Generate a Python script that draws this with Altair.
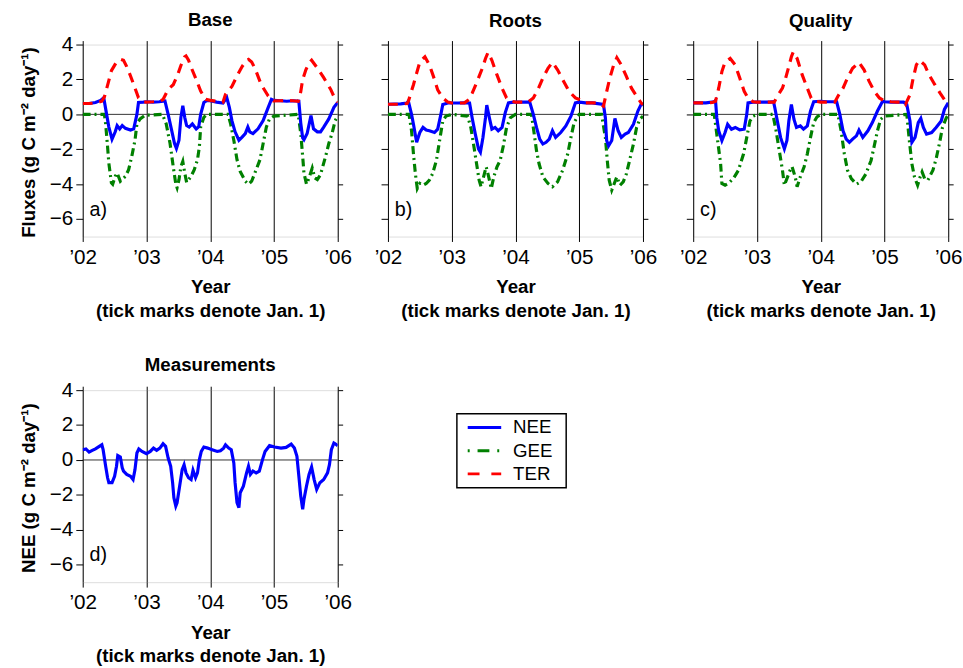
import altair as alt
import pandas as pd

FONT = "Liberation Sans"
BLUE, GREEN, RED = "#0000ff", "#008000", "#ff0000"

YEAR_TICKS = [2002, 2003, 2004, 2005, 2006]
FLUX_TICKS = [-6, -4, -2, 0, 2, 4]
PANEL_TITLES = ["Base", "Roots", "Quality", "Measurements"]
PANEL_LABELS = ["a)", "b)", "c)", "d)"]
LEGEND_NAMES = ["NEE", "GEE", "TER"]

# (decimal year, flux) pairs
BASE_TER = [(2002.0, 0.62), (2002.1, 0.62), (2002.2, 0.65), (2002.3, 0.75), (2002.34, 1.0), (2002.4, 1.8),
            (2002.45, 2.5), (2002.49, 2.75), (2002.53, 3.0), (2002.57, 3.1), (2002.6, 3.15), (2002.64, 3.1),
            (2002.69, 2.74), (2002.75, 2.2), (2002.8, 1.7), (2002.875, 0.95), (2002.95, 0.72), (2003.0, 0.7),
            (2003.1, 0.72), (2003.2, 0.75), (2003.26, 0.85), (2003.34, 1.43), (2003.42, 1.7), (2003.49, 2.27),
            (2003.54, 2.8), (2003.6, 3.3), (2003.62, 3.35), (2003.66, 3.1), (2003.7, 2.7), (2003.78, 2.0),
            (2003.85, 1.33), (2003.93, 0.86), (2004.0, 0.8), (2004.1, 0.75), (2004.2, 0.7), (2004.24, 1.15),
            (2004.34, 1.6), (2004.42, 2.2), (2004.5, 2.74), (2004.57, 3.1), (2004.6, 3.15), (2004.65, 3.0),
            (2004.7, 2.65), (2004.8, 1.7), (2004.91, 1.05), (2004.99, 0.77), (2005.1, 0.78), (2005.2, 0.8),
            (2005.3, 0.78), (2005.38, 0.75), (2005.42, 1.3), (2005.45, 2.0), (2005.5, 2.55), (2005.55, 2.95),
            (2005.59, 3.1), (2005.68, 2.65), (2005.78, 2.1), (2005.89, 1.43), (2005.96, 0.86), (2006.0, 0.7)]
BASE_NEE = [(2002.0, 0.62), (2002.1, 0.62), (2002.2, 0.68), (2002.28, 0.8), (2002.33, 0.95), (2002.375, 0.0),
            (2002.41, -0.73), (2002.46, -1.42), (2002.51, -1.0), (2002.54, -0.64), (2002.58, -0.83),
            (2002.62, -0.64), (2002.67, -0.8), (2002.75, -0.9), (2002.8, -0.83), (2002.85, 0.0), (2002.875, 0.68),
            (2002.95, 0.7), (2003.0, 0.72), (2003.1, 0.7), (2003.2, 0.72), (2003.29, 0.77), (2003.34, 0.0),
            (2003.39, -0.83), (2003.44, -1.67), (2003.47, -1.95), (2003.51, -1.48), (2003.54, -0.17),
            (2003.57, 0.49), (2003.6, -0.17), (2003.63, -0.64), (2003.67, -0.73), (2003.72, -0.55),
            (2003.78, -0.83), (2003.82, -0.7), (2003.85, 0.0), (2003.9, 0.68), (2003.95, 0.8), (2004.0, 0.78),
            (2004.1, 0.7), (2004.2, 0.65), (2004.26, 0.96), (2004.3, 0.4), (2004.34, -0.36), (2004.39, -1.0),
            (2004.45, -1.48), (2004.5, -1.3), (2004.55, -1.1), (2004.59, -0.73), (2004.62, -1.0),
            (2004.67, -1.1), (2004.75, -0.83), (2004.83, -0.36), (2004.91, 0.4), (2004.96, 0.86), (2005.0, 0.8),
            (2005.1, 0.78), (2005.2, 0.75), (2005.3, 0.78), (2005.39, 0.75), (2005.42, -0.5), (2005.45, -1.35),
            (2005.47, -1.45), (2005.52, -1.1), (2005.58, -0.07), (2005.62, -0.83), (2005.68, -1.0),
            (2005.73, -1.0), (2005.78, -0.73), (2005.86, -0.26), (2005.94, 0.4), (2006.0, 0.68)]
BASE_GEE = [(2002.0, 0.0), (2002.34, 0.0), (2002.36, -0.55), (2002.39, -1.86), (2002.41, -2.8), (2002.45, -3.92),
            (2002.47, -4.0), (2002.51, -3.55), (2002.54, -3.36), (2002.59, -3.83), (2002.67, -3.55),
            (2002.72, -3.17), (2002.77, -2.4), (2002.82, -1.48), (2002.85, -0.55), (2002.9, -0.26),
            (2002.98, -0.05), (2003.25, 0.0), (2003.31, -0.55), (2003.37, -1.67), (2003.42, -3.0), (2003.46, -4.0),
            (2003.48, -4.2), (2003.51, -3.74), (2003.54, -3.0), (2003.57, -2.7), (2003.6, -3.36), (2003.63, -3.9),
            (2003.7, -3.55), (2003.75, -3.17), (2003.8, -2.6), (2003.83, -1.86), (2003.85, -0.73),
            (2003.9, -0.17), (2003.95, 0.0), (2004.28, 0.0), (2004.32, -0.55), (2004.37, -1.48), (2004.42, -2.6),
            (2004.47, -3.27), (2004.55, -3.83), (2004.6, -4.0), (2004.65, -3.83), (2004.7, -3.36),
            (2004.78, -2.6), (2004.83, -1.67), (2004.88, -0.73), (2004.93, -0.26), (2005.0, -0.1), (2005.38, 0.0),
            (2005.42, -1.1), (2005.45, -2.4), (2005.47, -3.36), (2005.51, -4.0), (2005.55, -3.64), (2005.6, -3.08),
            (2005.64, -3.64), (2005.68, -3.74), (2005.73, -3.45), (2005.81, -2.4), (2005.86, -1.67),
            (2005.91, -1.1), (2005.96, -0.36), (2006.0, -0.1)]

ROOTS_TER = [(2002.0, 0.58), (2002.2, 0.58), (2002.3, 0.62), (2002.32, 0.75), (2002.4, 1.7), (2002.45, 2.36),
             (2002.5, 3.0), (2002.58, 3.3), (2002.65, 2.83), (2002.73, 2.0), (2002.78, 1.4), (2002.86, 0.94),
             (2002.94, 0.7), (2003.0, 0.65), (2003.1, 0.65), (2003.2, 0.66), (2003.27, 0.85), (2003.32, 1.2),
             (2003.4, 1.9), (2003.48, 2.64), (2003.53, 3.2), (2003.57, 3.55), (2003.63, 3.1), (2003.71, 2.26),
             (2003.79, 1.5), (2003.86, 0.94), (2003.94, 0.75), (2004.0, 0.7), (2004.1, 0.7), (2004.2, 0.7),
             (2004.28, 0.94), (2004.35, 1.4), (2004.43, 2.08), (2004.51, 2.64), (2004.58, 2.98), (2004.66, 2.55),
             (2004.74, 2.0), (2004.84, 1.32), (2004.94, 0.94), (2005.0, 0.85), (2005.1, 0.66), (2005.2, 0.66),
             (2005.3, 0.66), (2005.38, 0.47), (2005.43, 1.3), (2005.48, 2.08), (2005.54, 2.83), (2005.59, 3.25),
             (2005.66, 2.83), (2005.74, 2.17), (2005.82, 1.5), (2005.9, 1.04), (2005.97, 0.66), (2006.0, 0.55)]
ROOTS_NEE = [(2002.0, 0.58), (2002.2, 0.6), (2002.3, 0.65), (2002.32, 0.75), (2002.37, 0.0), (2002.4, -0.57),
             (2002.45, -1.6), (2002.5, -1.04), (2002.55, -0.75), (2002.6, -0.9), (2002.65, -0.94),
             (2002.73, -1.04), (2002.78, -0.85), (2002.83, 0.0), (2002.86, 0.57), (2002.94, 0.65), (2003.0, 0.65),
             (2003.1, 0.65), (2003.2, 0.66), (2003.28, 0.65), (2003.32, -0.19), (2003.37, -1.13),
             (2003.42, -1.98), (2003.45, -2.17), (2003.49, -1.32), (2003.53, -0.19), (2003.55, 0.53),
             (2003.59, -0.19), (2003.63, -0.85), (2003.68, -0.75), (2003.73, -0.94), (2003.79, -0.75),
             (2003.84, 0.1), (2003.89, 0.66), (2003.97, 0.7), (2004.1, 0.7), (2004.2, 0.7), (2004.22, 0.75),
             (2004.28, 0.0), (2004.33, -0.75), (2004.38, -1.42), (2004.43, -1.7), (2004.48, -1.6),
             (2004.53, -1.42), (2004.58, -0.94), (2004.63, -1.32), (2004.71, -1.04), (2004.79, -0.66),
             (2004.87, -0.1), (2004.94, 0.66), (2005.0, 0.7), (2005.1, 0.66), (2005.2, 0.66), (2005.38, 0.57),
             (2005.41, -0.19), (2005.43, -1.5), (2005.46, -1.8), (2005.51, -1.5), (2005.56, -0.23),
             (2005.61, -0.94), (2005.66, -1.32), (2005.72, -1.13), (2005.77, -1.04), (2005.85, -0.57),
             (2005.92, 0.19), (2005.97, 0.57), (2006.0, 0.55)]
ROOTS_GEE = [(2002.0, 0.0), (2002.33, 0.0), (2002.37, -0.94), (2002.4, -2.26), (2002.43, -3.4), (2002.46, -4.25),
             (2002.5, -3.96), (2002.55, -4.06), (2002.6, -3.96), (2002.65, -3.77), (2002.7, -3.4),
             (2002.76, -2.64), (2002.81, -1.5), (2002.86, -0.38), (2002.91, -0.1), (2003.0, 0.0), (2003.25, -0.1),
             (2003.3, -0.75), (2003.35, -1.89), (2003.39, -2.83), (2003.43, -3.77), (2003.46, -4.15),
             (2003.5, -3.58), (2003.54, -3.0), (2003.58, -3.58), (2003.62, -4.25), (2003.66, -3.58),
             (2003.71, -3.0), (2003.76, -2.64), (2003.81, -1.8), (2003.86, -0.75), (2003.92, -0.19), (2004.0, 0.0),
             (2004.25, 0.0), (2004.28, -0.75), (2004.33, -2.08), (2004.37, -2.83), (2004.43, -3.58),
             (2004.51, -3.96), (2004.58, -4.15), (2004.66, -3.87), (2004.74, -3.2), (2004.82, -2.26),
             (2004.87, -1.32), (2004.92, -0.47), (2004.97, -0.15), (2005.0, 0.0), (2005.35, 0.0), (2005.41, -1.32),
             (2005.44, -2.64), (2005.47, -3.77), (2005.51, -4.34), (2005.55, -3.96), (2005.59, -3.58),
             (2005.64, -4.06), (2005.69, -3.87), (2005.74, -3.4), (2005.79, -2.64), (2005.85, -1.7),
             (2005.9, -0.75), (2005.95, -0.28), (2006.0, -0.1)]

QUALITY_TER = [(2002.0, 0.66), (2002.2, 0.66), (2002.3, 0.68), (2002.35, 0.75), (2002.4, 1.5), (2002.45, 2.45),
               (2002.5, 3.0), (2002.58, 3.2), (2002.66, 2.83), (2002.73, 2.08), (2002.8, 1.32), (2002.86, 0.94),
               (2002.94, 0.72), (2003.0, 0.7), (2003.1, 0.7), (2003.2, 0.7), (2003.27, 0.7), (2003.32, 1.04),
               (2003.4, 1.5), (2003.45, 2.08), (2003.5, 2.74), (2003.54, 3.3), (2003.57, 3.58), (2003.63, 3.2),
               (2003.71, 2.26), (2003.79, 1.5), (2003.85, 0.94), (2003.92, 0.75), (2004.0, 0.7), (2004.1, 0.7),
               (2004.22, 0.7), (2004.27, 1.04), (2004.35, 1.5), (2004.43, 2.17), (2004.5, 2.64), (2004.6, 2.98),
               (2004.68, 2.55), (2004.76, 1.89), (2004.84, 1.32), (2004.92, 0.94), (2004.99, 0.79), (2005.1, 0.72),
               (2005.2, 0.7), (2005.3, 0.7), (2005.33, 0.57), (2005.4, 1.13), (2005.45, 2.08), (2005.5, 2.83),
               (2005.55, 3.1), (2005.63, 2.83), (2005.7, 2.26), (2005.79, 1.7), (2005.87, 1.23), (2005.94, 0.85),
               (2006.0, 0.7)]
QUALITY_NEE = [(2002.0, 0.66), (2002.2, 0.66), (2002.33, 0.72), (2002.35, 0.8), (2002.37, -0.19), (2002.4, -0.94),
               (2002.45, -1.5), (2002.5, -1.04), (2002.54, -0.57), (2002.6, -0.85), (2002.66, -0.75),
               (2002.73, -0.89), (2002.8, -0.85), (2002.84, 0.0), (2002.86, 0.66), (2002.94, 0.7), (2003.0, 0.7),
               (2003.1, 0.7), (2003.2, 0.7), (2003.26, 0.72), (2003.28, 0.38), (2003.32, -0.38), (2003.37, -1.32),
               (2003.43, -1.98), (2003.47, -1.5), (2003.5, -0.38), (2003.54, 0.57), (2003.58, -0.28),
               (2003.62, -0.75), (2003.68, -0.66), (2003.73, -0.85), (2003.79, -0.66), (2003.84, 0.19),
               (2003.89, 0.72), (2004.0, 0.75), (2004.1, 0.72), (2004.25, 0.72), (2004.3, 0.0), (2004.35, -0.94),
               (2004.4, -1.42), (2004.45, -1.6), (2004.5, -1.42), (2004.56, -1.23), (2004.6, -0.9),
               (2004.66, -1.32), (2004.74, -0.94), (2004.81, -0.47), (2004.89, 0.19), (2004.97, 0.75),
               (2005.0, 0.72), (2005.1, 0.7), (2005.2, 0.7), (2005.3, 0.7), (2005.35, 0.57), (2005.4, -0.38),
               (2005.43, -1.6), (2005.48, -1.32), (2005.53, -0.47), (2005.57, -0.23), (2005.61, -0.75),
               (2005.66, -1.13), (2005.74, -1.04), (2005.81, -0.75), (2005.89, -0.38), (2005.94, 0.28),
               (2006.0, 0.66)]
QUALITY_GEE = [(2002.0, 0.0), (2002.33, 0.0), (2002.35, -0.57), (2002.39, -1.7), (2002.43, -2.83), (2002.45, -3.96),
               (2002.5, -4.06), (2002.55, -3.96), (2002.63, -3.68), (2002.71, -3.2), (2002.79, -2.26),
               (2002.84, -1.32), (2002.89, -0.38), (2002.94, -0.1), (2003.0, 0.0), (2003.25, 0.0), (2003.3, -0.94),
               (2003.35, -2.08), (2003.4, -3.2), (2003.43, -4.06), (2003.48, -3.58), (2003.52, -3.2),
               (2003.55, -3.0), (2003.6, -3.58), (2003.63, -4.15), (2003.68, -3.58), (2003.74, -3.0),
               (2003.79, -2.26), (2003.84, -1.32), (2003.89, -0.47), (2003.94, -0.15), (2004.0, 0.0),
               (2004.27, 0.0), (2004.32, -0.94), (2004.37, -2.26), (2004.42, -3.2), (2004.48, -3.68),
               (2004.56, -4.0), (2004.63, -3.87), (2004.71, -3.4), (2004.79, -2.64), (2004.84, -1.8),
               (2004.89, -0.94), (2004.94, -0.28), (2005.0, -0.1), (2005.35, 0.0), (2005.39, -1.5), (2005.43, -2.83),
               (2005.47, -3.58), (2005.52, -4.06), (2005.56, -3.58), (2005.59, -3.3), (2005.63, -3.68),
               (2005.68, -3.77), (2005.76, -3.2), (2005.81, -2.55), (2005.86, -1.7), (2005.91, -0.75),
               (2005.97, -0.19), (2006.0, -0.05)]

MEAS_NEE = [(2002.0, 0.59), (2002.05, 0.63), (2002.1, 0.45), (2002.15, 0.55), (2002.2, 0.64), (2002.26, 0.78),
            (2002.3, 0.87), (2002.32, 0.59), (2002.36, -0.36), (2002.39, -1.02), (2002.41, -1.3), (2002.46, -1.3),
            (2002.5, -0.93), (2002.53, -0.36), (2002.55, 0.25), (2002.59, 0.17), (2002.62, -0.45), (2002.64, -0.64),
            (2002.69, -0.83), (2002.75, -0.93), (2002.79, -1.12), (2002.82, -0.55), (2002.85, 0.4), (2002.88, 0.63),
            (2002.93, 0.49), (2003.0, 0.36), (2003.06, 0.49), (2003.11, 0.68), (2003.16, 0.55), (2003.21, 0.68),
            (2003.26, 0.93), (2003.3, 0.78), (2003.34, 0.11), (2003.38, -0.36), (2003.41, -1.3), (2003.43, -2.16),
            (2003.46, -2.64), (2003.48, -2.45), (2003.52, -1.5), (2003.56, -0.55), (2003.59, -0.27),
            (2003.62, -0.74), (2003.66, -1.02), (2003.7, -1.12), (2003.73, -0.59), (2003.77, -1.02), (2003.8, -0.74),
            (2003.83, 0.02), (2003.86, 0.49), (2003.9, 0.74), (2003.96, 0.68), (2004.03, 0.59), (2004.11, 0.49),
            (2004.16, 0.53), (2004.21, 0.68), (2004.24, 0.87), (2004.29, 0.68), (2004.33, 0.59), (2004.37, -0.17),
            (2004.39, -1.3), (2004.42, -2.45), (2004.45, -2.73), (2004.47, -1.88), (2004.52, -1.5),
            (2004.57, -0.74), (2004.6, -0.36), (2004.63, -0.83), (2004.67, -0.64), (2004.72, -0.74),
            (2004.77, -0.64), (2004.82, 0.02), (2004.86, 0.49), (2004.93, 0.82), (2005.01, 0.74), (2005.11, 0.68),
            (2005.19, 0.72), (2005.27, 0.91), (2005.32, 0.68), (2005.36, 0.21), (2005.39, -0.93), (2005.42, -2.07),
            (2005.45, -2.82), (2005.47, -2.26), (2005.51, -1.5), (2005.55, -0.83), (2005.59, -0.4), (2005.63, -1.12),
            (2005.67, -1.69), (2005.72, -1.3), (2005.78, -1.12), (2005.84, -0.74), (2005.87, -0.27), (2005.9, 0.59),
            (2005.94, 0.97), (2005.96, 0.93), (2006.0, 0.82)]

W, H = 259, 195
LW = 3.2
X_SCALE = alt.Scale(domain=[2002, 2006], nice=False, zero=False)
Y_SCALE = alt.Scale(domain=[-7, 4], nice=False, zero=False)
LABEL_EXPR = "'\u2019' + substring(toString(datum.value), 2, 4)"
XTITLE = ["Year", "(tick marks denote Jan. 1)"]
YUNIT = "(g C m\u207b\u00b2 day\u207b\u00b9)"


def frame(pairs):
    return pd.DataFrame(pairs, columns=["t", "v"])


def x_bottom():
    return alt.Axis(orient="bottom", values=YEAR_TICKS, labelExpr=LABEL_EXPR, labelFlush=False,
                    grid=True, gridColor="#000000", gridWidth=1, gridOpacity=1,
                    ticks=True, tickSize=5, tickColor="#000000", domain=False,
                    labelFontSize=21, labelPadding=5, labelColor="#000000", labelFont=FONT,
                    title=XTITLE, titleFontSize=19, titleFontWeight="bold", titleFont=FONT,
                    titleColor="#000000", titlePadding=11, titleLineHeight=24)


def x_top():
    return alt.Axis(orient="top", values=YEAR_TICKS, labels=False, grid=False, ticks=True, tickSize=4,
                    tickColor="#000000", domain=False, title=None)


def y_left(ytitle, show_labels):
    kw = dict(orient="left", values=FLUX_TICKS, grid=False, ticks=True, tickSize=7, tickColor="#000000",
              domain=False, labels=show_labels, labelFontSize=21, labelPadding=3, labelColor="#000000",
              labelFont=FONT)
    if ytitle:
        kw.update(title=ytitle, titleFontSize=19, titleFontWeight="bold", titleFont=FONT,
                  titleColor="#000000", titlePadding=11, titleY=99)
    else:
        kw.update(title=None)
    return alt.Axis(**kw)


def y_right():
    return alt.Axis(orient="right", values=FLUX_TICKS, labels=False, grid=False, ticks=True, tickSize=5,
                    tickColor="#000000", domain=False, title=None)


def series_line(pairs, color, dash, xaxis, yaxis):
    kw = dict(color=color, strokeWidth=LW, clip=True)
    if dash:
        kw["strokeDash"] = dash
    return alt.Chart(frame(pairs)).mark_line(**kw).encode(
        x=alt.X("t:Q", scale=X_SCALE, axis=xaxis),
        y=alt.Y("v:Q", scale=Y_SCALE, axis=yaxis),
    )


def panel(title, label, ytitle, show_ylabels, gee=None, nee=None, ter=None, extra=None):
    zero = alt.Chart(pd.DataFrame({"z": [0]})).mark_rule(color="#333333", strokeWidth=1).encode(
        y=alt.Y("z:Q", scale=Y_SCALE, axis=y_right()))
    layers = [zero]
    if gee is not None:
        layers.append(series_line(gee, GREEN, [8, 4, 2, 4], None, None))
    layers.append(series_line(nee, BLUE, None, x_bottom(), y_left(ytitle, show_ylabels)))
    if ter is not None:
        layers.append(series_line(ter, RED, [10, 7], None, None))
    top_axis = alt.Chart(pd.DataFrame({"t": YEAR_TICKS})).mark_point(opacity=0).encode(
        x=alt.X("t:Q", scale=X_SCALE, axis=x_top()))
    layers.append(top_axis)
    lab = alt.Chart(pd.DataFrame({"s": [label]})).mark_text(
        align="left", baseline="middle", fontSize=20, font=FONT, color="#000000").encode(
        x=alt.value(7), y=alt.value(168), text="s:N")
    layers.append(lab)
    if extra:
        layers.extend(extra)
    # panels with visible y labels have taller top bounds; nudge their titles down to match
    dy = 5 if show_ylabels else 0
    return alt.layer(*layers).resolve_axis(x="independent", y="independent").properties(
        width=W, height=H,
        title=alt.TitleParams(title, fontSize=19, fontWeight="bold", font=FONT, color="#000000",
                              offset=9, dy=dy))


def legend_layers():
    out = [alt.Chart(pd.DataFrame({"s": ["box"]})).mark_rect(
        fillOpacity=0, stroke="#000000", strokeWidth=1.5).encode(
        x=alt.value(380), x2=alt.value(491), y=alt.value(24), y2=alt.value(99))]
    styles = [(BLUE, None), (GREEN, [2, 8, 12, 8]), (RED, [12, 12])]
    for i, (name, (color, dash)) in enumerate(zip(LEGEND_NAMES, styles)):
        ypix = 38 + 23.5 * i
        kw = dict(color=color, strokeWidth=3)
        if dash:
            kw["strokeDash"] = dash
        d = pd.DataFrame({"s": [name]})
        out.append(alt.Chart(d).mark_rule(**kw).encode(
            x=alt.value(391), x2=alt.value(425), y=alt.value(ypix)))
        out.append(alt.Chart(d).mark_text(align="left", baseline="middle", fontSize=19, font=FONT,
                                          color="#000000").encode(
            x=alt.value(437), y=alt.value(ypix), text="s:N"))
    return out


pa = panel(PANEL_TITLES[0], PANEL_LABELS[0], "Fluxes " + YUNIT, True, BASE_GEE, BASE_NEE, BASE_TER)
pb = panel(PANEL_TITLES[1], PANEL_LABELS[1], None, False, ROOTS_GEE, ROOTS_NEE, ROOTS_TER)
pc = panel(PANEL_TITLES[2], PANEL_LABELS[2], None, False, QUALITY_GEE, QUALITY_NEE, QUALITY_TER)
pdd = panel(PANEL_TITLES[3], PANEL_LABELS[3], "NEE " + YUNIT, True, None, MEAS_NEE, None,
            extra=legend_layers())

top = alt.hconcat(pa, pb, pc, spacing=21)
chart = alt.vconcat(top, pdd, spacing=35).properties(
    padding={"left": 19, "top": 5, "right": 0, "bottom": 0}
).configure_view(stroke="#000000", strokeWidth=1.4).configure(background="white")

chart.save("out.html", embed_options={"renderer": "svg", "actions": False})
